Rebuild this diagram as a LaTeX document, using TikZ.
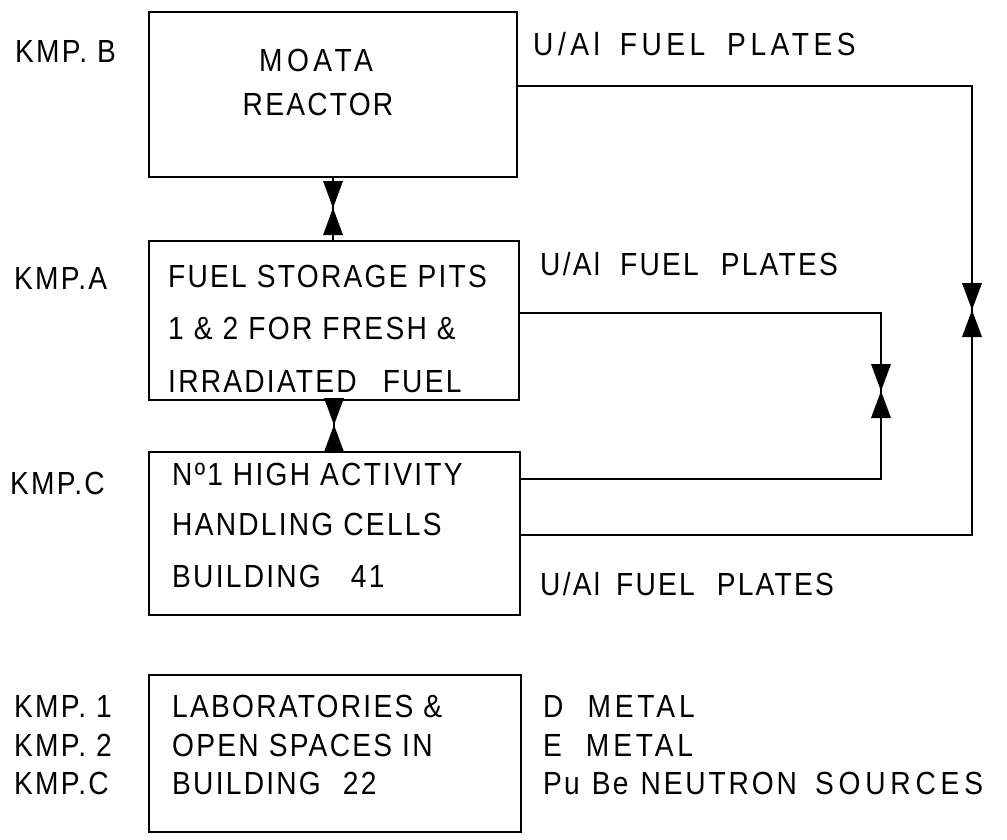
\documentclass[tikz,border=0pt]{standalone}
\usepackage{fontspec}
\setmainfont{Liberation Sans}[LetterSpace=7, FakeStretch=0.88]
\newcommand{\wgap}[1]{\hspace{#1pt}}
\newcommand{\wide}[2]{{\addfontfeature{LetterSpace=#1}#2}}
\begin{document}
\begin{tikzpicture}[x=1pt,y=-1pt,
  box/.style={draw, line width=2pt, inner sep=0pt, outer sep=0pt},
  lbl/.style={font=\fontsize{32}{32}\selectfont, anchor=base west, inner sep=0pt},
  clbl/.style={font=\fontsize{32}{32}\selectfont, anchor=base, inner sep=0pt},
  ln/.style={line width=2pt},
  valve/.pic={\fill[line join=round] (-10,-27) -- (10,-27) -- (0,0) -- cycle;
              \fill[line join=round] (-10,27) -- (10,27) -- (0,0) -- cycle;}]
\useasboundingbox (0,0) rectangle (1007,839);

% boxes
\node[box, minimum width=368pt, minimum height=165pt] (b1) at (333,94.5) {};
\node[box, minimum width=370pt, minimum height=159pt] (b2) at (334,320.5) {};
\node[box, minimum width=371pt, minimum height=163pt] (b3) at (334.5,533.5) {};
\node[box, minimum width=372pt, minimum height=157pt] (b4) at (335,753.5) {};

% box texts
\node[clbl] (t1a) at (316,71) {\wide{14}{MOATA}};
\node[clbl] (t1b) at (318,115) {REACTOR};
\node[lbl] (t2a) at (168,287) {FUEL STORAGE PITS};
\node[lbl] (t2b) at (168,339) {1 \& 2 FOR FRESH \&};
\node[lbl] (t2c) at (168,392) {IRRADIATED\wgap{26}FUEL};
\node[lbl] (t3a) at (172,485) {Nº1 HIGH ACTIVITY};
\node[lbl] (t3b) at (172,535) {HANDLING CELLS};
\node[lbl] (t3c) at (172,587) {BUILDING\wgap{30}41};
\node[lbl] (t4a) at (172,717) {LABORATORIES \&};
\node[lbl] (t4b) at (172,756) {OPEN SPACES IN};
\node[lbl] (t4c) at (172,794) {BUILDING\wgap{22}22};

% left labels
\node[lbl] (k1) at (15,62) {KMP. B};
\node[lbl] (k2) at (14,289) {KMP.A};
\node[lbl] (k3) at (10,494) {KMP.C};
\node[lbl] (k4) at (14,717) {KMP. 1};
\node[lbl] (k5) at (14,756) {KMP. 2};
\node[lbl] (k6) at (14,794) {KMP.C};

% right labels
\node[lbl] (u1) at (533,55) {\wide{14}{U/Al\wgap{20}FUEL\wgap{22}PLATES}};
\node[lbl] (u2) at (540,275) {U/Al\wgap{20}FUEL\wgap{22}PLATES};
\node[lbl] (u3) at (540,595) {U/Al\wgap{16}FUEL\wgap{22}PLATES};
\node[lbl] (m1) at (543,717) {D\wgap{24}\wide{12}{METAL}};
\node[lbl] (m2) at (543,756) {E\wgap{24}\wide{12}{METAL}};
\node[lbl] (m3) at (543,794) {Pu\wgap{12}Be\wgap{12}\wide{9}{NEUTRON}\wgap{18}\wide{15}{SOURCES}};

% connector coordinates
\coordinate (v1) at (333,208);
\coordinate (v2) at (334,425);
\coordinate (r1) at (972,86);
\coordinate (c1) at (972,535);
\coordinate (v3) at (972,310);
\coordinate (r2) at (881,313);
\coordinate (c2) at (881,479);
\coordinate (v4) at (881,391);

% connectors
\draw[ln] (b1.south -| v1) -- (b2.north -| v1);
\draw[ln] (b2.south -| v2) -- (b3.north -| v2);
\draw[ln] (b1.east |- r1) -- (r1) -- (c1) -- (b3.east |- c1);
\draw[ln] (b2.east |- r2) -- (r2) -- (c2) -- (b3.east |- c2);

% valves
\pic at (v1) {valve};
\pic at (v2) {valve};
\pic at (v3) {valve};
\pic at (v4) {valve};
\end{tikzpicture}
\end{document}
